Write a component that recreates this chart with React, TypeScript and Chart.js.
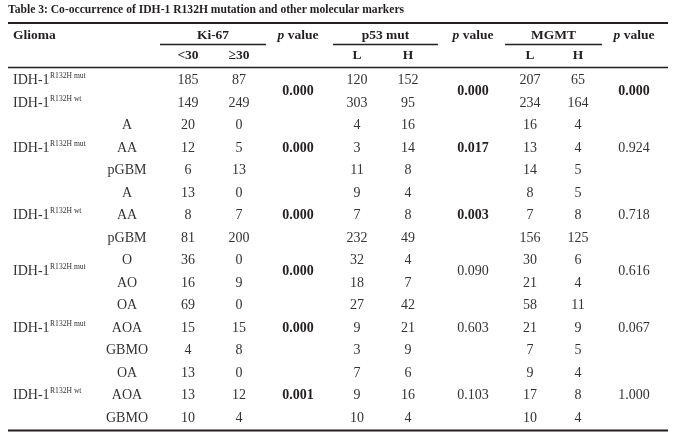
import React, { useEffect, useRef } from "react";
import { Chart, registerables } from "chart.js";

Chart.register(...registerables);

// ---------- data ----------
const tableTitle =
  "Table 3: Co-occurrence of IDH-1 R132H mutation and other molecular markers";
const gliomaHeader = "Glioma";
const markerHeaders = ["Ki-67", "p53 mut", "MGMT"];
const subHeaders = ["<30", "≥30", "L", "H", "L", "H"];
const idhPrefix = "IDH-1";
const idhSuper = "R132H";

const rowStatus = ["mut", "wt", "", "", "", "", "", "", "", "", "", "", "", "", "", ""];
const subtypes = ["", "", "A", "AA", "pGBM", "A", "AA", "pGBM", "O", "AO", "OA", "AOA", "GBMO", "OA", "AOA", "GBMO"];
const ki67Low = [185, 149, 20, 12, 6, 13, 8, 81, 36, 16, 69, 15, 4, 13, 13, 10];
const ki67High = [87, 249, 0, 5, 13, 0, 7, 200, 0, 9, 0, 15, 8, 0, 12, 4];
const p53Low = [120, 303, 4, 3, 11, 9, 7, 232, 32, 18, 27, 9, 3, 7, 9, 10];
const p53High = [152, 95, 16, 14, 8, 4, 8, 49, 4, 7, 42, 21, 9, 6, 16, 4];
const mgmtLow = [207, 234, 16, 13, 14, 8, 7, 156, 30, 21, 58, 21, 7, 9, 17, 10];
const mgmtHigh = [65, 164, 4, 4, 5, 5, 8, 125, 6, 4, 11, 9, 5, 4, 8, 4];

const groupStart = [0, 2, 5, 8, 10, 13];
const groupEnd = [1, 4, 7, 9, 12, 15];
const groupStatus = ["", "mut", "wt", "mut", "mut", "wt"];
const ki67P = ["0.000", "0.000", "0.000", "0.000", "0.000", "0.001"];
const p53P = ["0.000", "0.017", "0.003", "0.090", "0.603", "0.103"];
const mgmtP = ["0.000", "0.924", "0.718", "0.616", "0.067", "1.000"];

// ---------- layout / style ----------
const W = 678;
const H = 438;
const FONT = "'Liberation Serif', 'Times New Roman', serif";
const INK = "#231f20";
const BODY = "#333333";
const BODY_SIZE = 14;
const HEAD_SIZE = 13.5;
const TITLE_SIZE = 11.6;
const SUPER_SIZE = 7.6;

const X = {
  left: 8,
  right: 668,
  glioma: 13,
  subtype: 127,
  kiL: 188,
  kiH: 239,
  kiP: 298,
  p53L: 357,
  p53H: 408,
  p53Pv: 473,
  mgL: 530,
  mgH: 578,
  mgPv: 634,
};
const underlines = [
  [160, 266],
  [333, 438],
  [505, 602],
];
// vertical positions in row units (row i centre = i)
const R = {
  title: -3.13,
  topRule: -2.56,
  head: -2.0,
  underline: -1.6,
  sub: -1.1,
  midRule: -0.58,
  bottomRule: 15.55,
};

function pointsFor(values: (number | string)[], x: number) {
  return values.map((_, i) => ({ x, y: i }));
}
function groupPoints(x: number) {
  return groupStart.map((s, g) => ({ x, y: (s + groupEnd[g]) / 2 }));
}

const App: React.FC = () => {
  const ref = useRef<HTMLCanvasElement | null>(null);

  useEffect(() => {
    const canvas = ref.current;
    if (!canvas) return;
    document.body.style.margin = "0";

    const cellDatasets: any[] = [
      { texts: subtypes.map(String), data: pointsFor(subtypes, X.subtype), kind: "cell" },
      { texts: ki67Low.map(String), data: pointsFor(ki67Low, X.kiL), kind: "cell" },
      { texts: ki67High.map(String), data: pointsFor(ki67High, X.kiH), kind: "cell" },
      { texts: p53Low.map(String), data: pointsFor(p53Low, X.p53L), kind: "cell" },
      { texts: p53High.map(String), data: pointsFor(p53High, X.p53H), kind: "cell" },
      { texts: mgmtLow.map(String), data: pointsFor(mgmtLow, X.mgL), kind: "cell" },
      { texts: mgmtHigh.map(String), data: pointsFor(mgmtHigh, X.mgH), kind: "cell" },
      { texts: ki67P, data: groupPoints(X.kiP), kind: "p" },
      { texts: p53P, data: groupPoints(X.p53Pv), kind: "p" },
      { texts: mgmtP, data: groupPoints(X.mgPv), kind: "p" },
      { texts: rowStatus, data: pointsFor(rowStatus, X.glioma), kind: "idh" },
      { texts: groupStatus, data: groupPoints(X.glioma), kind: "idh" },
    ];
    const datasets = cellDatasets.map((d) => ({
      ...d,
      pointRadius: 0,
      pointHoverRadius: 0,
      showLine: false,
    }));

    const tablePlugin = {
      id: "tableDraw",
      afterDatasetsDraw(chart: any) {
        const ctx: CanvasRenderingContext2D = chart.ctx;
        const ys = chart.scales.y;
        const xs = chart.scales.x;
        const py = (v: number) => ys.getPixelForValue(v);
        const px = (v: number) => xs.getPixelForValue(v);
        ctx.save();
        ctx.textBaseline = "middle";

        // title
        ctx.fillStyle = INK;
        ctx.textAlign = "left";
        ctx.font = `bold ${TITLE_SIZE}px ${FONT}`;
        ctx.fillText(tableTitle, px(X.left), py(R.title));

        // rules
        const rule = (y: number, x1: number, x2: number, w: number) => {
          ctx.strokeStyle = INK;
          ctx.lineWidth = w;
          ctx.beginPath();
          ctx.moveTo(px(x1), py(y));
          ctx.lineTo(px(x2), py(y));
          ctx.stroke();
        };
        rule(R.topRule, X.left, X.right, 2);
        rule(R.midRule, X.left, X.right, 1.6);
        rule(R.bottomRule, X.left, X.right, 2);
        underlines.forEach(([a, b]) => rule(R.underline, a, b, 1.6));

        // header row
        ctx.font = `bold ${HEAD_SIZE}px ${FONT}`;
        ctx.textAlign = "left";
        ctx.fillText(gliomaHeader, px(X.glioma), py(R.head));
        ctx.textAlign = "center";
        underlines.forEach(([a, b], i) => {
          ctx.fillText(markerHeaders[i], px((a + b) / 2), py(R.head));
        });
        const drawPHeader = (cx: number) => {
          ctx.font = `italic bold ${HEAD_SIZE}px ${FONT}`;
          const wp = ctx.measureText("p").width;
          ctx.font = `bold ${HEAD_SIZE}px ${FONT}`;
          const wv = ctx.measureText(" value").width;
          const start = px(cx) - (wp + wv) / 2;
          ctx.textAlign = "left";
          ctx.font = `italic bold ${HEAD_SIZE}px ${FONT}`;
          ctx.fillText("p", start, py(R.head));
          ctx.font = `bold ${HEAD_SIZE}px ${FONT}`;
          ctx.fillText(" value", start + wp, py(R.head));
        };
        drawPHeader(X.kiP);
        drawPHeader(X.p53Pv);
        drawPHeader(X.mgPv);

        // sub header
        ctx.textAlign = "center";
        ctx.font = `bold ${HEAD_SIZE}px ${FONT}`;
        const subX = [X.kiL, X.kiH, X.p53L, X.p53H, X.mgL, X.mgH];
        subHeaders.forEach((t, i) => ctx.fillText(t, px(subX[i]), py(R.sub)));

        // body cells from dataset elements
        chart.data.datasets.forEach((ds: any, di: number) => {
          const meta = chart.getDatasetMeta(di);
          meta.data.forEach((el: any, i: number) => {
            const t = ds.texts[i];
            if (!t) return;
            ctx.fillStyle = BODY;
            if (ds.kind === "idh") {
              ctx.textAlign = "left";
              ctx.font = `${BODY_SIZE}px ${FONT}`;
              ctx.fillText(idhPrefix, el.x, el.y);
              const w = ctx.measureText(idhPrefix).width;
              ctx.font = `${SUPER_SIZE}px ${FONT}`;
              ctx.fillText(`${idhSuper} ${t}`, el.x + w + 0.5, el.y - 4.5);
            } else if (ds.kind === "p") {
              ctx.textAlign = "center";
              const bold = parseFloat(t) < 0.05;
              ctx.fillStyle = bold ? INK : BODY;
              ctx.font = `${bold ? "bold " : ""}${BODY_SIZE}px ${FONT}`;
              ctx.fillText(t, el.x, el.y);
            } else {
              ctx.textAlign = "center";
              ctx.font = `${BODY_SIZE}px ${FONT}`;
              ctx.fillText(t, el.x, el.y);
            }
          });
        });
        ctx.restore();
      },
    };

    const chart = new Chart(canvas, {
      type: "scatter",
      data: { datasets },
      options: {
        animation: false,
        responsive: false,
        events: [],
        layout: { padding: 0 },
        plugins: {
          legend: { display: false },
          tooltip: { enabled: false },
          title: { display: false },
        },
        scales: {
          x: { type: "linear", min: 0, max: W, display: false },
          y: {
            type: "linear",
            min: -80.5 / 22.5,
            max: (H - 80.5) / 22.5,
            reverse: true,
            display: false,
          },
        },
      },
      plugins: [tablePlugin],
    } as any);

    return () => chart.destroy();
  }, []);

  return (
    <div style={{ position: "fixed", left: 0, top: 0, width: W, height: H, background: "#fff" }}>
      <canvas ref={ref} width={W} height={H} style={{ width: W, height: H, display: "block" }} />
    </div>
  );
};

export default App;
